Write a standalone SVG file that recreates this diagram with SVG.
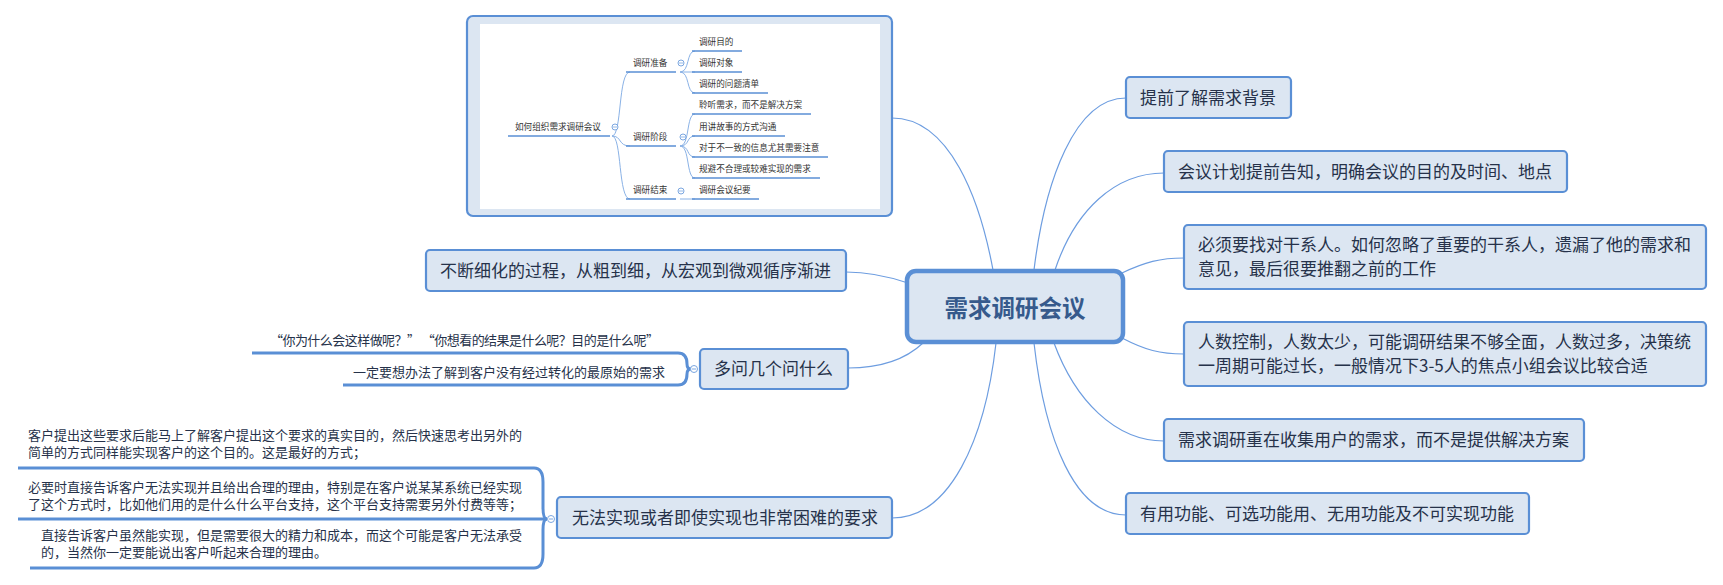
<svg xmlns="http://www.w3.org/2000/svg" width="1723" height="585" viewBox="0 0 1723 585">
<style>
.node{fill:#dce6f2;stroke:#5a8fd5;stroke-width:2.2}
.t{font-family:"Noto Sans CJK SC","Noto Sans",sans-serif;fill:#26324a}
.t17{font-size:17px}
.t13{font-size:13px}
.ts{font-family:"Noto Sans CJK SC","Noto Sans",sans-serif;font-size:8.6px;fill:#333}
.conn{fill:none;stroke:#6d9de0;stroke-width:1.2}
.ul{fill:none;stroke:#5a8fd5;stroke-width:3}
.iul{fill:none;stroke:#5a8fd5;stroke-width:1.6}
.ic{fill:none;stroke:#8ab2e6;stroke-width:1}
.col{fill:#fff;stroke:#7aa6e0;stroke-width:1}
</style>
<rect width="1723" height="585" fill="#fff"/>
<g id="connectors">
<path class="conn" d="M892,118 C950,118 980,200 993,270"/>
<path class="conn" d="M1034,270 C1045,180 1075,98 1126,98"/>
<path class="conn" d="M1055,270 C1075,210 1115,173 1164,173"/>
<path class="conn" d="M1122,273 C1145,262 1160,258 1184,258"/>
<path class="conn" d="M1122,338 C1145,350 1160,354 1184,354"/>
<path class="conn" d="M1054,343 C1075,400 1115,441 1164,441"/>
<path class="conn" d="M1034,343 C1045,440 1075,515 1126,515"/>
<path class="conn" d="M996,343 C985,440 950,518 892,518"/>
<path class="conn" d="M923,343 C905,360 880,368 848,368"/>
<path class="conn" d="M846,272 C870,272 890,277 908,283"/>
</g>
<g id="image-node">
<rect x="467" y="16" width="425" height="200" rx="6" class="node"/>
<rect x="480" y="24" width="400" height="185" fill="#fff"/>
<g id="inner-map">
<path class="ic" d="M612,136 C622,136 618,72 630,72"/>
<path class="ic" d="M612,136 C622,136 618,146 630,146"/>
<path class="ic" d="M612,136 C622,136 618,199 630,199"/>
<path class="ic" d="M680,72 C690,72 686,51 695,51"/>
<path class="ic" d="M680,72 H695"/>
<path class="ic" d="M680,72 C690,72 686,93 695,93"/>
<path class="ic" d="M680,146 C690,146 686,114 695,114"/>
<path class="ic" d="M680,146 C690,146 686,136 695,136"/>
<path class="ic" d="M680,146 C690,146 686,157 695,157"/>
<path class="ic" d="M680,146 C690,146 686,178 695,178"/>
<path class="ic" d="M680,199 H695"/>
<path class="iul" d="M508,136 H610"/>
<path class="iul" d="M626,72 H676"/>
<path class="iul" d="M626,146 H676"/>
<path class="iul" d="M626,199 H676"/>
<path class="iul" d="M692,51 H742"/>
<path class="iul" d="M692,72 H742"/>
<path class="iul" d="M692,93 H768"/>
<path class="iul" d="M692,114 H811"/>
<path class="iul" d="M692,136 H785"/>
<path class="iul" d="M692,157 H828"/>
<path class="iul" d="M692,178 H820"/>
<path class="iul" d="M692,199 H759"/>
<circle class="col" cx="615" cy="127" r="3"/><path d="M613,127 H617" stroke="#7aa6e0" stroke-width="0.8"/>
<circle class="col" cx="681" cy="63" r="3"/><path d="M679,63 H683" stroke="#7aa6e0" stroke-width="0.8"/>
<circle class="col" cx="683" cy="137" r="3"/><path d="M681,137 H685" stroke="#7aa6e0" stroke-width="0.8"/>
<circle class="col" cx="681" cy="191" r="3"/><path d="M679,191 H683" stroke="#7aa6e0" stroke-width="0.8"/>
<text class="ts" x="515" y="130">如何组织需求调研会议</text>
<text class="ts" x="633" y="66">调研准备</text>
<text class="ts" x="633" y="140">调研阶段</text>
<text class="ts" x="633" y="193">调研结束</text>
<text class="ts" x="699" y="45">调研目的</text>
<text class="ts" x="699" y="66">调研对象</text>
<text class="ts" x="699" y="87">调研的问题清单</text>
<text class="ts" x="699" y="108">聆听需求，而不是解决方案</text>
<text class="ts" x="699" y="130">用讲故事的方式沟通</text>
<text class="ts" x="699" y="151">对于不一致的信息尤其需要注意</text>
<text class="ts" x="699" y="172">规避不合理或较难实现的需求</text>
<text class="ts" x="699" y="193">调研会议纪要</text>
</g>
</g>
<g id="center">
<rect x="907" y="271" width="216" height="71" rx="9" fill="#dce6f2" stroke="#5a8fd5" stroke-width="4.5"/>
<text x="1015" y="317" text-anchor="middle" font-family="'Noto Sans CJK SC','Noto Sans',sans-serif" font-size="23.5" font-weight="bold" fill="#365a8c">需求调研会议</text>
</g>
<g id="n1">
<rect x="1126" y="77" width="165" height="41" rx="4" class="node"/>
<text class="t t17" x="1140" y="104">提前了解需求背景</text>
</g>
<g id="n2">
<rect x="1164" y="151" width="403" height="41" rx="4" class="node"/>
<text class="t t17" x="1178" y="178">会议计划提前告知，明确会议的目的及时间、地点</text>
</g>
<g id="n3">
<rect x="1184" y="225" width="522" height="64" rx="4" class="node"/>
<text class="t t17" x="1198" y="251">必须要找对干系人。如何忽略了重要的干系人，遗漏了他的需求和</text>
<text class="t t17" x="1198" y="275">意见，最后很要推翻之前的工作</text>
</g>
<g id="n4">
<rect x="1184" y="322" width="522" height="64" rx="4" class="node"/>
<text class="t t17" x="1198" y="348">人数控制，人数太少，可能调研结果不够全面，人数过多，决策统</text>
<text class="t t17" x="1198" y="372">一周期可能过长，一般情况下3-5人的焦点小组会议比较合适</text>
</g>
<g id="n5">
<rect x="1164" y="419" width="420" height="42" rx="4" class="node"/>
<text class="t t17" x="1178" y="446">需求调研重在收集用户的需求，而不是提供解决方案</text>
</g>
<g id="n6">
<rect x="1126" y="493" width="403" height="41" rx="4" class="node"/>
<text class="t t17" x="1140" y="520">有用功能、可选功能用、无用功能及不可实现功能</text>
</g>
<g id="n7">
<rect x="426" y="250" width="420" height="41" rx="4" class="node"/>
<text class="t t17" x="440" y="277">不断细化的过程，从粗到细，从宏观到微观循序渐进</text>
</g>
<g id="n8">
<path class="ul" d="M252,353 H678 C685,353 687,358 687,364 C687,368 689,369 691,369"/>
<path class="ul" d="M343,385 H678 C685,385 687,380 687,374 C687,370 689,369 691,369"/>
<circle class="col" cx="694" cy="369" r="3.5" stroke-width="1.2"/><path d="M692,369 H696" stroke="#7aa6e0" stroke-width="1"/>
<text class="t t13" x="270" y="345" textLength="389" lengthAdjust="spacing">“你为什么会这样做呢？”  “你想看的结果是什么呢？目的是什么呢”</text>
<text class="t t13" x="353" y="377">一定要想办法了解到客户没有经过转化的最原始的需求</text>
<rect x="700" y="349" width="148" height="40" rx="4" class="node"/>
<text class="t t17" x="714" y="375">多问几个问什么</text>
</g>
<g id="n9">
<path class="ul" d="M18,468 H534 C541,468 543,474 543,482 V508 C543,515 544,519 547,519"/>
<path class="ul" d="M18,519 H547"/>
<path class="ul" d="M30,568 H534 C541,568 543,562 543,554 V530 C543,523 544,519 547,519"/>
<circle class="col" cx="551" cy="519" r="3.5" stroke-width="1.2"/><path d="M549,519 H553" stroke="#7aa6e0" stroke-width="1"/>
<text class="t t13" x="28" y="440">客户提出这些要求后能马上了解客户提出这个要求的真实目的，然后快速思考出另外的</text>
<text class="t t13" x="28" y="457">简单的方式同样能实现客户的这个目的。这是最好的方式；</text>
<text class="t t13" x="28" y="492">必要时直接告诉客户无法实现并且给出合理的理由，特别是在客户说某某系统已经实现</text>
<text class="t t13" x="28" y="509">了这个方式时，比如他们用的是什么什么平台支持，这个平台支持需要另外付费等等；</text>
<text class="t t13" x="41" y="540">直接告诉客户虽然能实现，但是需要很大的精力和成本，而这个可能是客户无法承受</text>
<text class="t t13" x="41" y="557">的，当然你一定要能说出客户听起来合理的理由。</text>
<rect x="557" y="497" width="335" height="41" rx="4" class="node"/>
<text class="t t17" x="572" y="524">无法实现或者即使实现也非常困难的要求</text>
</g>
</svg>
